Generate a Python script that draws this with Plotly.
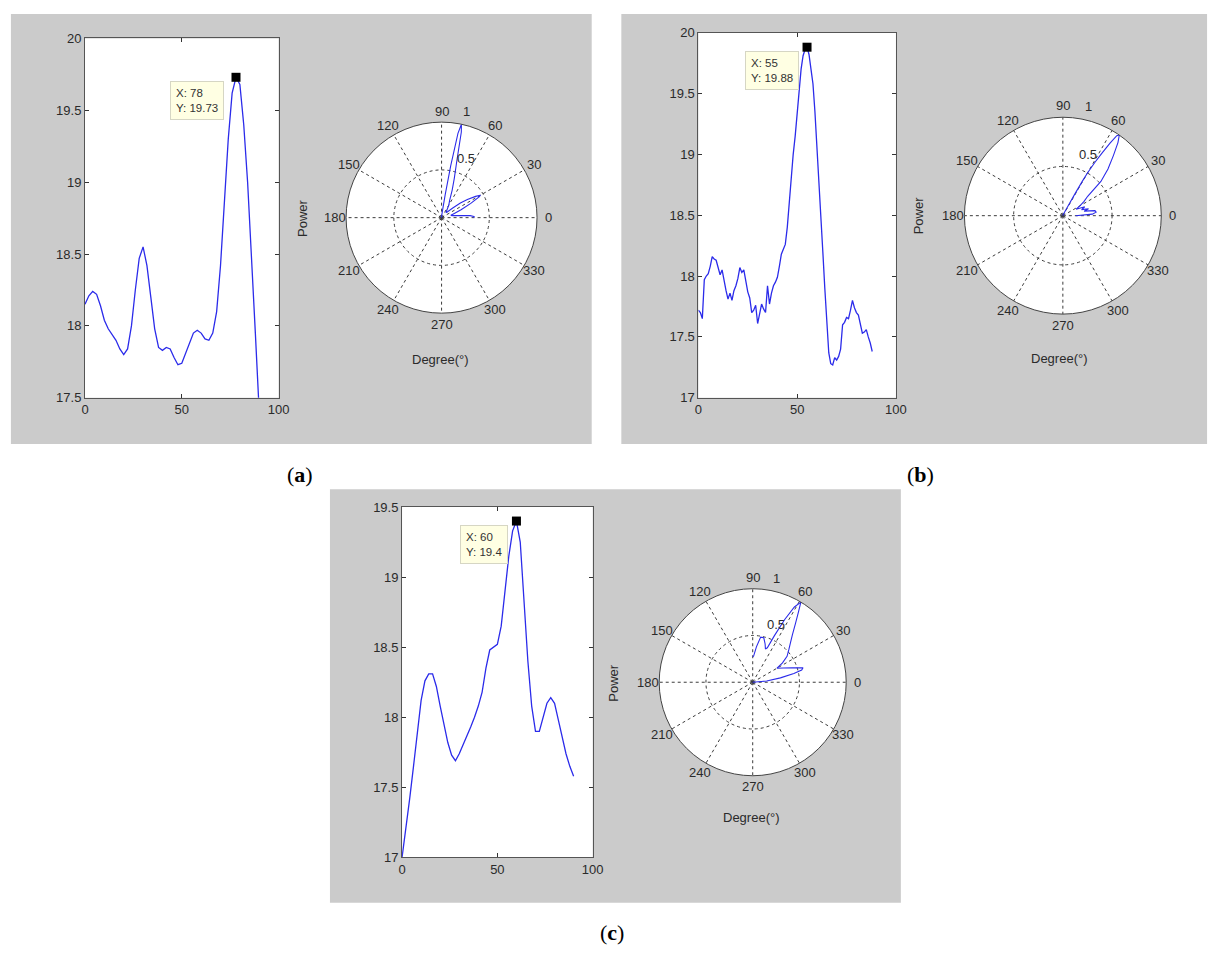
import math
import plotly.graph_objects as go

W, H = 1223, 956

# ---------------- data ----------------
# (a) power vs angle
a_deg = [0, 2, 4, 6, 8, 10, 12, 14, 16, 18, 20, 22, 24, 26, 28, 30, 32, 34, 36, 38, 40, 42, 44,
         46, 48, 50, 52, 54, 56, 58, 60, 62, 64, 66, 68, 70, 72, 74, 76, 78, 80, 82, 84, 86, 88, 90]
a_pow = [18.15, 18.21, 18.24, 18.22, 18.14, 18.04, 17.98, 17.94, 17.90, 17.84, 17.80, 17.84, 18.00,
         18.25, 18.47, 18.55, 18.42, 18.20, 17.98, 17.85, 17.83, 17.85, 17.84, 17.78, 17.73, 17.74,
         17.81, 17.89, 17.95, 17.97, 17.95, 17.91, 17.90, 17.95, 18.10, 18.42, 18.85, 19.30, 19.62,
         19.73, 19.68, 19.40, 19.00, 18.50, 17.95, 17.40]
a_peak = (78, 19.73)

# (b) power vs angle
b_deg = list(range(0, 89))
b_pow = [17.72, 17.70, 17.65, 17.97, 18.00, 18.02, 18.08, 18.16, 18.14, 18.13, 18.07, 18.01, 18.05,
         17.95, 17.88, 17.81, 17.86, 17.80, 17.88, 17.92, 17.98, 18.07, 18.03, 18.05, 17.95, 17.87,
         17.82, 17.70, 17.72, 17.76, 17.61, 17.68, 17.77, 17.73, 17.70, 17.92, 17.77, 17.86, 17.92,
         17.95, 17.99, 18.08, 18.18, 18.22, 18.26, 18.40, 18.62, 18.80, 19.00, 19.15, 19.35, 19.51,
         19.70, 19.81, 19.86, 19.88, 19.82, 19.70, 19.58, 19.35, 19.08, 18.80, 18.50, 18.20, 17.90,
         17.60, 17.37, 17.28, 17.27, 17.33, 17.31, 17.34, 17.40, 17.60, 17.62, 17.66, 17.65, 17.72,
         17.80, 17.74, 17.70, 17.68, 17.60, 17.53, 17.54, 17.56, 17.50, 17.45, 17.38]
b_peak = (55, 19.88)

# (c) power vs angle
c_deg = [0, 2, 4, 6, 8, 10, 12, 14, 16, 18, 20, 22, 24, 26, 28, 30, 32, 34, 36, 38, 40, 42, 44,
         46, 48, 50, 52, 54, 56, 58, 60, 62, 64, 66, 68, 70, 72, 74, 76, 78, 80, 82, 84, 86, 88, 90]
c_pow = [17.00, 17.20, 17.42, 17.65, 17.90, 18.12, 18.26, 18.31, 18.31, 18.22, 18.08, 17.95, 17.82,
         17.73, 17.69, 17.74, 17.80, 17.86, 17.93, 18.00, 18.08, 18.18, 18.35, 18.48, 18.50, 18.52,
         18.65, 18.90, 19.15, 19.33, 19.40, 19.25, 18.85, 18.40, 18.08, 17.90, 17.90, 18.00, 18.10,
         18.14, 18.10, 17.98, 17.85, 17.74, 17.65, 17.58]
c_peak = (60, 19.40)

# polar patterns (normalised power)
pa_theta = [0, 2, 4, 7, 10, 14, 18, 22, 26, 29, 30, 32, 35, 38, 41, 45, 50, 55, 60, 65, 69, 72,
            75, 77, 78, 79, 80, 81, 83, 86, 90]
pa_r = [0.33, 0.34, 0.30, 0.18, 0.12, 0.10, 0.14, 0.22, 0.34, 0.45, 0.47, 0.42, 0.33, 0.25, 0.15,
        0.08, 0.07, 0.10, 0.15, 0.20, 0.31, 0.43, 0.62, 0.92, 1.00, 0.90, 0.55, 0.25, 0.06, 0.02, 0.0]

pb_theta = [0, 3, 6, 9, 12, 15, 18, 22, 26, 30, 34, 38, 42, 46, 50, 53, 55, 56, 57, 58, 59, 60,
            60.5, 61, 62, 65, 70, 90]
pb_r = [0.13, 0.30, 0.34, 0.33, 0.22, 0.27, 0.20, 0.24, 0.15, 0.20, 0.26, 0.32, 0.52, 0.66, 0.80,
        0.93, 1.00, 0.98, 0.88, 0.75, 0.63, 0.50, 0.40, 0.25, 0.10, 0.03, 0.02, 0.0]

pc_theta = [0, 5, 9, 12, 14, 16, 20, 25, 30, 33, 37, 42, 46, 50, 54, 57, 59, 61, 63, 65, 67, 69,
            72, 76, 80, 84, 88, 90]
pc_r = [0.0, 0.15, 0.30, 0.45, 0.54, 0.56, 0.45, 0.36, 0.30, 0.38, 0.46, 0.52, 0.58, 0.66, 0.78,
        0.90, 1.00, 0.92, 0.75, 0.55, 0.40, 0.38, 0.43, 0.49, 0.49, 0.38, 0.28, 0.27]

ang_ticks = [0, 30, 60, 90, 120, 150, 180, 210, 240, 270, 300, 330]
rad_labels = ["0.5", "1"]

# ---------------- layout helpers ----------------
FONT = "Arial, Liberation Sans, sans-serif"
LINE = "#2b2bea"
GREY = "#cbcbcb"
AX = "#555555"
GRID = "#3c3c3c"
TXT = "#2a2a2a"


def px_x(x):
    return x / W


def px_y(y):
    return 1 - y / H


fig = go.Figure()

panels = [
    dict(ax="", deg=a_deg, pw=a_pow, pk=a_peak, yr=[17.5, 20], dx=(82, 278), dy=(32, 397),
         pol="polar", th=pa_theta, r=pa_r, pc=(443, 214), pr=97,
         bg=(7, 7, 595, 444), tipshift=(-12, -4), power=(302, 214), deglbl=(442, 358)),
    dict(ax="2", deg=b_deg, pw=b_pow, pk=b_peak, yr=[17, 20], dx=(703, 903), dy=(26, 397),
         pol="polar2", th=pb_theta, r=pb_r, pc=(1072, 212), pr=100,
         bg=(625, 7, 1218, 444), tipshift=(-8, -4), power=(926, 212), deglbl=(1069, 357)),
    dict(ax="3", deg=c_deg, pw=c_pow, pk=c_peak, yr=[17, 19.5], dx=(403, 596), dy=(508, 864),
         pol="polar3", th=pc_theta, r=pc_r, pc=(758, 686), pr=95,
         bg=(330, 490, 908, 910), tipshift=(-8, -4), power=(617, 686), deglbl=(757, 823)),
]

shapes = []
annotations = []
layout_extra = {}

for p in panels:
    xa = "x" + p["ax"]
    ya = "y" + p["ax"]
    # grey figure background
    x0, y0, x1, y1 = p["bg"]
    shapes.append(dict(type="rect", xref="paper", yref="paper", x0=px_x(x0), x1=px_x(x1),
                       y0=px_y(y1), y1=px_y(y0), fillcolor=GREY, line=dict(width=0),
                       layer="below"))
    # white axes area
    shapes.append(dict(type="rect", xref=xa + " domain", yref=ya + " domain", x0=0, x1=1,
                       y0=0, y1=1, fillcolor="white", line=dict(width=0), layer="below"))

    fig.add_trace(go.Scatter(x=p["deg"], y=p["pw"], mode="lines",
                             line=dict(color=LINE, width=1.3), xaxis=xa, yaxis=ya,
                             showlegend=False, hoverinfo="skip"))
    fig.add_trace(go.Scatter(x=[p["pk"][0]], y=[p["pk"][1]], mode="markers",
                             marker=dict(symbol="square", size=9, color="black"),
                             xaxis=xa, yaxis=ya, cliponaxis=False, showlegend=False))

    axis_common = dict(showgrid=False, zeroline=False, showline=True, linecolor=AX, linewidth=1,
                       mirror="ticks", ticks="inside", ticklen=4, tickcolor="#333333",
                       tickfont=dict(family=FONT, size=13, color=TXT))
    xname = "xaxis" + p["ax"]
    yname = "yaxis" + p["ax"]
    layout_extra[xname] = dict(axis_common, domain=[px_x(p["dx"][0]), px_x(p["dx"][1])],
                               range=[0, 100], tickvals=[0, 50, 100], anchor=ya)
    layout_extra[yname] = dict(axis_common, domain=[px_y(p["dy"][1]), px_y(p["dy"][0])],
                               range=p["yr"], dtick=0.5, tick0=17, anchor=xa)

    # data tip
    annotations.append(dict(x=p["pk"][0], y=p["pk"][1], xref=xa, yref=ya,
                            text="X: %g<br>Y: %g" % p["pk"], showarrow=False, align="left",
                            xanchor="right", yanchor="top", xshift=p["tipshift"][0],
                            yshift=p["tipshift"][1],
                            font=dict(family=FONT, size=11.5, color="#333333"),
                            bgcolor="#ffffe3", bordercolor="#d6d6c4", borderwidth=1, borderpad=5))

    # polar subplot
    cx, cy = p["pc"]
    R = p["pr"]
    layout_extra[p["pol"]] = dict(
        domain=dict(x=[px_x(cx - R), px_x(cx + R)], y=[px_y(cy + R), px_y(cy - R)]),
        bgcolor="white",
        radialaxis=dict(range=[0, 1], tickvals=[0.5], showticklabels=False, ticks="",
                        showline=False, gridcolor=GRID, griddash="3px,3px", gridwidth=1.1),
        angularaxis=dict(tickvals=ang_ticks, showticklabels=False, ticks="",
                         direction="counterclockwise", rotation=0, showline=True,
                         linecolor="#444444", linewidth=1,
                         gridcolor=GRID, griddash="3px,3px", gridwidth=1.1),
    )
    fig.add_trace(go.Scatterpolar(r=p["r"], theta=p["th"], mode="lines",
                                  line=dict(color=LINE, width=1.1), subplot=p["pol"],
                                  showlegend=False, hoverinfo="skip"))

    # angular tick labels placed like MATLAB's polar() (just outside the rim)
    for t in ang_ticks:
        lx = cx + 1.115 * R * math.cos(math.radians(t))
        ly = cy - 1.115 * R * math.sin(math.radians(t))
        annotations.append(dict(x=px_x(lx), y=px_y(ly), xref="paper", yref="paper",
                                text=str(t), showarrow=False, xanchor="center",
                                yanchor="middle", font=dict(family=FONT, size=13, color=TXT)))
    # radial tick labels
    for txt, rr, tt in zip(rad_labels, [0.67, 1.14], [68, 77]):
        lx = cx + rr * R * math.cos(math.radians(tt))
        ly = cy - rr * R * math.sin(math.radians(tt))
        annotations.append(dict(x=px_x(lx), y=px_y(ly), xref="paper", yref="paper",
                                text=txt, showarrow=False, xanchor="center",
                                yanchor="middle", font=dict(family=FONT, size=13, color=TXT)))

    annotations.append(dict(x=px_x(p["power"][0]), y=px_y(p["power"][1]), xref="paper",
                            yref="paper", text="Power", textangle=-90, showarrow=False,
                            xanchor="center", yanchor="middle",
                            font=dict(family=FONT, size=13, color=TXT)))
    annotations.append(dict(x=px_x(p["deglbl"][0]), y=px_y(p["deglbl"][1]), xref="paper",
                            yref="paper", text="Degree(°)", showarrow=False,
                            xanchor="center", yanchor="middle",
                            font=dict(family=FONT, size=13, color=TXT)))

for lbl, (x, y) in zip(["a", "b", "c"], [(300, 475), (928, 475), (616, 940)]):
    annotations.append(dict(x=px_x(x), y=px_y(y), xref="paper", yref="paper",
                            text="(<b>%s</b>)" % lbl, showarrow=False, xanchor="center",
                            yanchor="middle",
                            font=dict(family="Liberation Serif, Times New Roman, serif",
                                      size=22, color="black")))

fig.update_layout(width=W, height=H, margin=dict(l=0, r=0, t=0, b=0), paper_bgcolor="white",
                  plot_bgcolor="white", shapes=shapes, annotations=annotations,
                  showlegend=False, **layout_extra)

fig.write_html("out.html")
